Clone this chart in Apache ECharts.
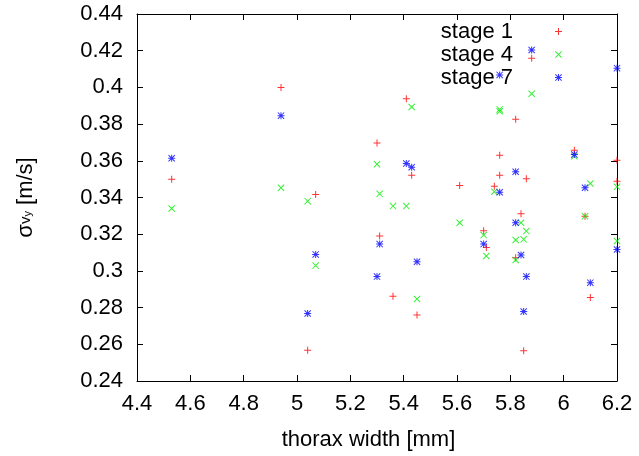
<!DOCTYPE html>
<html>
<head>
<meta charset="utf-8">
<script src="https://cdn.jsdelivr.net/npm/echarts@6/dist/echarts.min.js"></script>
<style>
html,body{margin:0;padding:0;background:#fff;}
#chart{width:639px;height:456px;}
</style>
</head>
<body>
<div id="chart"></div>
<script>
// ---- data (thorax width [mm], sigma v_y [m/s]) ----
const stage1X = [4.53,4.94,5.07,5.04,5.88,5.41,5.82,5.30,5.76,6.04,6.20,5.43,5.76,5.86,5.61,5.74,6.20,5.84,6.08,5.70,5.31,5.71,5.82,5.36,6.10,5.45,5.85];
const stage1Y = [0.350,0.400,0.3416,0.2567,0.4159,0.3938,0.3826,0.3697,0.363,0.3657,0.3603,0.3521,0.3521,0.3502,0.3465,0.3461,0.3489,0.3311,0.3298,0.3219,0.319,0.3127,0.3072,0.2862,0.2855,0.276,0.2565];

const stage4X = [4.53,4.94,5.04,5.07,5.88,5.43,5.76,5.76,6.04,5.30,5.74,5.31,6.10,6.20,5.36,5.41,5.61,6.08,5.84,5.86,5.70,5.82,5.85,6.20,5.71,5.82,5.45];
const stage4Y = [0.334,0.3453,0.338,0.3029,0.3965,0.3893,0.3880,0.3870,0.3625,0.3581,0.3431,0.342,0.3476,0.3458,0.3353,0.3353,0.3262,0.3298,0.3262,0.3217,0.3195,0.3168,0.3172,0.3163,0.3081,0.3059,0.2847];

const stage7X = [4.53,4.94,5.07,5.04,5.88,5.76,6.20,6.04,5.41,5.43,5.82,5.76,6.08,5.82,6.20,5.31,5.70,5.84,5.45,5.30,5.86,6.10,5.85];
const stage7Y = [0.3614,0.3846,0.309,0.2768,0.4204,0.4068,0.4105,0.3634,0.3585,0.3565,0.354,0.3429,0.3453,0.3262,0.3117,0.3146,0.3146,0.3087,0.305,0.2969,0.2969,0.2936,0.2779];

const seriesNames = ['stage 1','stage 4','stage 7'];
const xRange = [4.4, 6.2, 0.2];
const yRange = [0.24, 0.44, 0.02];
const xAxisTitle = 'thorax width [mm]';

// ---- symbols ----
const PLUS = 'path://M6,0H8V14H6Z M0,6H14V8H0Z';
const CROSS = 'path://M0,1.4L1.4,0L14,12.6L12.6,14Z M12.6,0L14,1.4L1.4,14L0,12.6Z';
const STAR = 'path://M6,0H8V14H6Z M0,6H14V8H0Z M0,1.4L1.4,0L14,12.6L12.6,14Z M12.6,0L14,1.4L1.4,14L0,12.6Z';

function zip(xs, ys){ return xs.map((x,i)=>[x, ys[i]]); }

const FONT = "'Liberation Sans', Arial, sans-serif";
const fmtY = v => String(parseFloat(v.toFixed(2)));
const fmtX = v => String(parseFloat(v.toFixed(1)));

const axisCommon = {
  axisLine: { show: true, onZero: false, lineStyle: { color: '#000', width: 1 } },
  axisTick: { show: true, inside: true, length: 6, lineStyle: { color: '#000', width: 1 } },
  splitLine: { show: false }
};

const chart = echarts.init(document.getElementById('chart'), null, { renderer: 'canvas' });
chart.setOption({
  backgroundColor: '#fff',
  animation: false,
  grid: { left: 137, right: 22, top: 14, bottom: 74, containLabel: false },
  legend: {
    data: seriesNames,
    orient: 'vertical',
    align: 'right',
    right: 77,
    top: 20,
    padding: 0,
    itemGap: 0,
    itemWidth: 7,
    itemHeight: 7,
    textStyle: { fontFamily: FONT, fontSize: 22, color: '#000', lineHeight: 23, padding: [0, 37, 0, 0] }
  },
  xAxis: [
    Object.assign({}, axisCommon, {
      type: 'value', position: 'bottom',
      min: xRange[0], max: xRange[1], interval: xRange[2],
      name: xAxisTitle, nameLocation: 'middle', nameGap: 48,
      nameTextStyle: { fontFamily: FONT, fontSize: 22, color: '#000', padding: [0, 17, 0, 0] },
      axisLabel: { show: true, margin: 12, fontFamily: FONT, fontSize: 22, color: '#000', formatter: fmtX }
    }),
    Object.assign({}, axisCommon, {
      type: 'value', position: 'top',
      min: xRange[0], max: xRange[1], interval: xRange[2],
      axisLabel: { show: false }
    })
  ],
  yAxis: [
    Object.assign({}, axisCommon, {
      type: 'value', position: 'left',
      min: yRange[0], max: yRange[1], interval: yRange[2],
      name: '{s|σ}{v|v}{y|y}{n| [m/s]}', nameLocation: 'middle', nameGap: 100, nameRotate: 90,
      nameTextStyle: {
        fontFamily: FONT, fontSize: 22, color: '#000',
        rich: {
          s: { fontFamily: FONT, fontSize: 22, color: '#000' },
          v: { fontFamily: FONT, fontSize: 15, color: '#000' },
          y: { fontFamily: FONT, fontSize: 11, color: '#000', padding: [4, 0, 0, 0] },
          n: { fontFamily: FONT, fontSize: 22, color: '#000' }
        }
      },
      axisLabel: { show: true, margin: 14, fontFamily: FONT, fontSize: 22, color: '#000', formatter: fmtY }
    }),
    Object.assign({}, axisCommon, {
      type: 'value', position: 'right',
      min: yRange[0], max: yRange[1], interval: yRange[2],
      axisLabel: { show: false }
    })
  ],
  series: [
    { name: seriesNames[0], type: 'scatter', symbol: PLUS, symbolSize: 7, itemStyle: { color: '#ff0000' }, data: zip(stage1X, stage1Y), z: 3 },
    { name: seriesNames[1], type: 'scatter', symbol: CROSS, symbolSize: 7, itemStyle: { color: '#00ee00' }, data: zip(stage4X, stage4Y), z: 4 },
    { name: seriesNames[2], type: 'scatter', symbol: STAR, symbolSize: 7, itemStyle: { color: '#0000ff' }, data: zip(stage7X, stage7Y), z: 5 }
  ]
});
</script>
</body>
</html>
